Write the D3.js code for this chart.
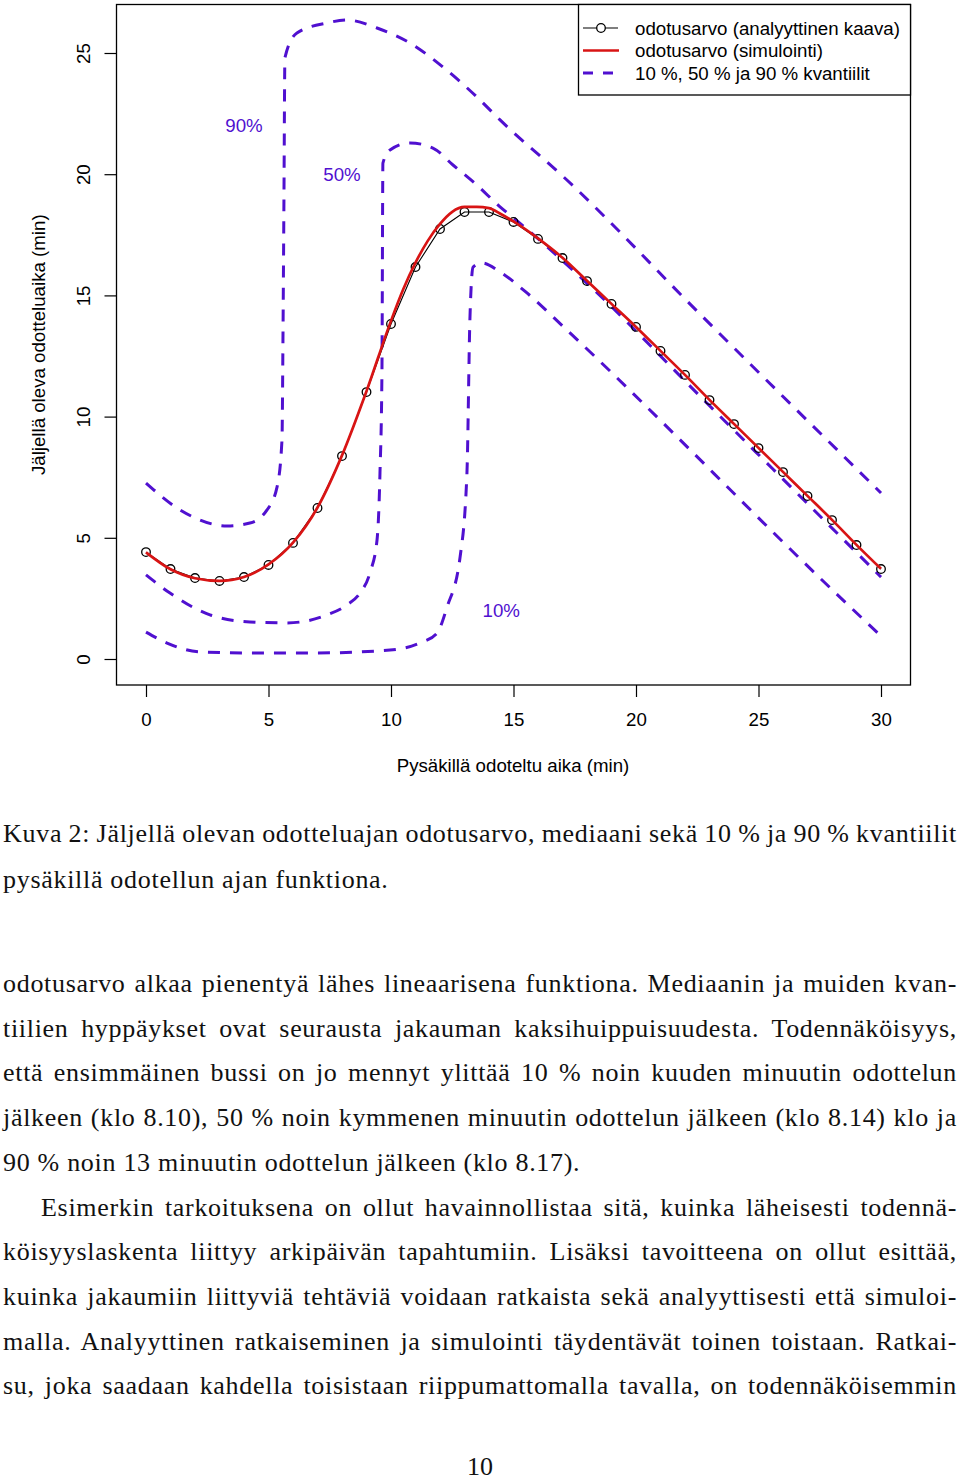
<!DOCTYPE html>
<html><head><meta charset="utf-8">
<script src="https://cdn.jsdelivr.net/npm/d3@7"></script>
<style>body{margin:0;background:#fff}</style>
</head><body>
<svg id="c" width="960" height="1482" xmlns="http://www.w3.org/2000/svg"></svg>
<script>
// ---------- data ----------
const xTicks = [0, 5, 10, 15, 20, 25, 30];
const yTicks = [0, 5, 10, 15, 20, 25];

const analyticX = [0,1,2,3,4,5,6,7,8,9,10,11,12,13,14,15,16,17,18,19,20,21,22,23,24,25,26,27,28,29,30];
const analyticY = [4.41,3.71,3.34,3.22,3.38,3.88,4.79,6.23,8.37,11.01,13.82,16.17,17.74,18.44,18.44,18.03,17.33,16.54,15.59,14.65,13.70,12.71,11.72,10.68,9.69,8.70,7.71,6.72,5.73,4.70,3.71];

const simX = [0,1,2,3,4,5,6,7,8,9,10,10.5,11,11.5,12,12.5,13,13.5,14,14.5,15,16,17,18,19,20,21,22,23,24,25,26,27,28,29,30];
const simY = [4.40,3.70,3.33,3.22,3.38,3.90,4.80,6.25,8.40,11.05,13.95,15.25,16.35,17.25,17.95,18.45,18.65,18.65,18.6,18.35,18.05,17.35,16.55,15.6,14.65,13.7,12.71,11.72,10.69,9.70,8.71,7.72,6.73,5.74,4.71,3.72];

const q90X = [0,1.39,3.31,4.24,4.94,5.35,5.55,5.59,5.63,5.67,6.16,7.39,8.20,9.43,10.78,12.12,13.51,14.45,17.18,22.73,30];
const q90Y = [7.26,6.15,5.49,5.61,6.15,7.10,9.03,13.16,18.94,24.8,25.83,26.24,26.36,26.03,25.41,24.42,23.18,22.24,19.76,14.11,6.85];

const q50X = [0,0.98,2.61,4.24,5.76,7.39,8.2,8.73,9.14,9.43,9.55,9.63,9.67,9.96,10.78,11.71,12.53,13.51,14.45,15,18,22.9,30];
const q50Y = [3.47,2.72,1.82,1.53,1.49,1.82,2.23,2.72,3.55,4.91,7.67,11.8,20.46,21.0,21.29,21.08,20.38,19.55,18.65,18.2,15.5,10.55,3.38];

const q10X = [0,0.86,2.2,4.24,7,9.96,11.18,11.88,12.29,12.82,13.1,13.22,13.35,13.71,14.45,15.55,17.18,28.45,30];
const q10Y = [1.11,0.66,0.29,0.25,0.25,0.37,0.66,1.07,2.15,4.21,7.67,13.99,16.17,16.34,15.97,15.1,13.57,2.43,0.95];

const qLabels = ["90%", "50%", "10%"];
const qLabelX = [4, 8, 14.5];
const qLabelY = [22, 20, 2];

const legendLabels = ["odotusarvo (analyyttinen kaava)", "odotusarvo (simulointi)", "10 %, 50 % ja 90 % kvantiilit"];
const xTitle = "Pysäkillä odoteltu aika (min)";
const yTitle = "Jäljellä oleva odotteluaika (min)";

const captionLines = [
  {t: "Kuva 2: Jäljellä olevan odotteluajan odotusarvo, mediaani sekä 10 % ja 90 % kvantiilit", j: true, x: 3},
  {t: "pysäkillä odotellun ajan funktiona.", j: false, x: 3}
];
const bodyLines = [
  {t: "odotusarvo alkaa pienentyä lähes lineaarisena funktiona. Mediaanin ja muiden kvan-", j: true, x: 3},
  {t: "tiilien hyppäykset ovat seurausta jakauman kaksihuippuisuudesta. Todennäköisyys,", j: true, x: 3},
  {t: "että ensimmäinen bussi on jo mennyt ylittää 10 % noin kuuden minuutin odottelun", j: true, x: 3},
  {t: "jälkeen (klo 8.10), 50 % noin kymmenen minuutin odottelun jälkeen (klo 8.14) klo ja", j: true, x: 3},
  {t: "90 % noin 13 minuutin odottelun jälkeen (klo 8.17).", j: false, x: 3},
  {t: "Esimerkin tarkoituksena on ollut havainnollistaa sitä, kuinka läheisesti todennä-", j: true, x: 41},
  {t: "köisyyslaskenta liittyy arkipäivän tapahtumiin. Lisäksi tavoitteena on ollut esittää,", j: true, x: 3},
  {t: "kuinka jakaumiin liittyviä tehtäviä voidaan ratkaista sekä analyyttisesti että simuloi-", j: true, x: 3},
  {t: "malla. Analyyttinen ratkaiseminen ja simulointi täydentävät toinen toistaan. Ratkai-", j: true, x: 3},
  {t: "su, joka saadaan kahdella toisistaan riippumattomalla tavalla, on todennäköisemmin", j: true, x: 3}
];
const pageNumber = "10";

// ---------- drawing ----------
const svg = d3.select("#c");
svg.append("rect").attr("width", 960).attr("height", 1482).attr("fill", "#fff");

const VIOLET = "#5010d0";
const RED = "#d81414";
const SANS = "'Liberation Sans', Arial, Helvetica, sans-serif";
const SERIF = "'Liberation Serif', 'Times New Roman', serif";

const box = {l: 116.5, t: 4.5, r: 910.5, b: 685};
const x = d3.scaleLinear().domain([0, 30]).range([146, 881]);
const y = d3.scaleLinear().domain([0, 25]).range([659, 53]);

// axes
const gx = svg.append("g").attr("transform", `translate(0,${box.b})`)
  .call(d3.axisBottom(x).tickValues(xTicks).tickSize(12).tickSizeOuter(0).tickPadding(22));
gx.select(".domain").remove();
gx.selectAll("line").attr("stroke", "#000").attr("stroke-width", 1.2);
gx.selectAll("text").attr("font-family", SANS).attr("font-size", 18.7).attr("fill", "#000").attr("dy", "0.35em");

const gy = svg.append("g").attr("transform", `translate(${box.l},0)`)
  .call(d3.axisLeft(y).tickValues(yTicks).tickSize(12).tickSizeOuter(0));
gy.select(".domain").remove();
gy.selectAll("line").attr("stroke", "#000").attr("stroke-width", 1.2);
gy.selectAll("text")
  .attr("font-family", SANS).attr("font-size", 18.7).attr("fill", "#000")
  .attr("transform", "rotate(-90)").attr("x", 0).attr("y", -27).attr("dy", 0)
  .attr("text-anchor", "middle");

// plot box
svg.append("rect").attr("x", box.l).attr("y", box.t)
  .attr("width", box.r - box.l).attr("height", box.b - box.t)
  .attr("fill", "none").attr("stroke", "#000").attr("stroke-width", 1.3);

// axis titles
svg.append("text").attr("x", 513).attr("y", 772).attr("text-anchor", "middle")
  .attr("font-family", SANS).attr("font-size", 18.7).text(xTitle);
svg.append("text").attr("transform", `translate(45,${(box.t + box.b) / 2}) rotate(-90)`)
  .attr("text-anchor", "middle").attr("font-family", SANS).attr("font-size", 18.7).text(yTitle);

// quantile lines
const qLine = d3.line().x(d => x(d[0])).y(d => y(d[1])).curve(d3.curveMonotoneX);
const quant = [[q90X, q90Y], [q50X, q50Y], [q10X, q10Y]];
quant.forEach(([qx, qy]) => {
  svg.append("path").datum(qx.map((v, i) => [v, qy[i]]))
    .attr("d", qLine).attr("fill", "none").attr("stroke", VIOLET)
    .attr("stroke-width", 3).attr("stroke-dasharray", "12,10");
});

// analytic mean: line + open circles
const aData = analyticX.map((v, i) => [v, analyticY[i]]);
svg.append("path").datum(aData)
  .attr("d", d3.line().x(d => x(d[0])).y(d => y(d[1])))
  .attr("fill", "none").attr("stroke", "#000").attr("stroke-width", 1.1);
svg.selectAll("circle.a").data(aData).enter().append("circle")
  .attr("class", "a").attr("cx", d => x(d[0])).attr("cy", d => y(d[1])).attr("r", 4.3)
  .attr("fill", "none").attr("stroke", "#000").attr("stroke-width", 1.3);

// simulated mean
svg.append("path").datum(simX.map((v, i) => [v, simY[i]]))
  .attr("d", d3.line().x(d => x(d[0])).y(d => y(d[1])).curve(d3.curveMonotoneX))
  .attr("fill", "none").attr("stroke", RED).attr("stroke-width", 2.7);

// quantile labels
svg.selectAll("text.ql").data(qLabels).enter().append("text")
  .attr("class", "ql").attr("x", (d, i) => x(qLabelX[i])).attr("y", (d, i) => y(qLabelY[i]))
  .attr("dy", "0.36em").attr("text-anchor", "middle")
  .attr("font-family", SANS).attr("font-size", 18.7).attr("fill", VIOLET).text(d => d);

// legend
const lg = svg.append("g");
lg.append("rect").attr("x", 578.5).attr("y", box.t).attr("width", box.r - 578.5).attr("height", 95 - box.t)
  .attr("fill", "#fff").attr("stroke", "#000").attr("stroke-width", 1.3);
const ly = [28, 50.5, 73];
lg.append("line").attr("x1", 583).attr("x2", 618).attr("y1", ly[0]).attr("y2", ly[0])
  .attr("stroke", "#000").attr("stroke-width", 1.1);
lg.append("circle").attr("cx", 601).attr("cy", ly[0]).attr("r", 4.3)
  .attr("fill", "#fff").attr("stroke", "#000").attr("stroke-width", 1.3);
lg.append("line").attr("x1", 583).attr("x2", 619).attr("y1", ly[1]).attr("y2", ly[1])
  .attr("stroke", RED).attr("stroke-width", 2.7);
lg.append("line").attr("x1", 583).attr("x2", 619).attr("y1", ly[2]).attr("y2", ly[2])
  .attr("stroke", VIOLET).attr("stroke-width", 3).attr("stroke-dasharray", "10,10");
lg.selectAll("text").data(legendLabels).enter().append("text")
  .attr("x", 635).attr("y", (d, i) => ly[i]).attr("dy", "0.36em")
  .attr("font-family", SANS).attr("font-size", 18.7).attr("fill", "#000").text(d => d);

// ---------- page text ----------
const SERIF_SIZE = 26;
const LETTER_SP = 0.7;
function drawLines(lines, y0, step) {
  lines.forEach((ln, i) => {
    const t = svg.append("text").attr("x", ln.x).attr("y", y0 + i * step)
      .attr("font-family", SERIF).attr("font-size", SERIF_SIZE).attr("fill", "#111")
      .attr("letter-spacing", LETTER_SP)
      .attr("xml:space", "preserve").text(ln.t);
    if (ln.j) {
      const target = 957 - ln.x;
      const w = t.node().getComputedTextLength();
      const spaces = (ln.t.match(/ /g) || []).length;
      if (spaces > 0) t.attr("word-spacing", (target - w) / spaces);
    }
  });
}
drawLines(captionLines, 842, 45.5);
drawLines(bodyLines, 992, 44.7);
svg.append("text").attr("x", 480).attr("y", 1475).attr("text-anchor", "middle")
  .attr("font-family", SERIF).attr("font-size", SERIF_SIZE).attr("fill", "#111").text(pageNumber);
</script>
</body></html>
